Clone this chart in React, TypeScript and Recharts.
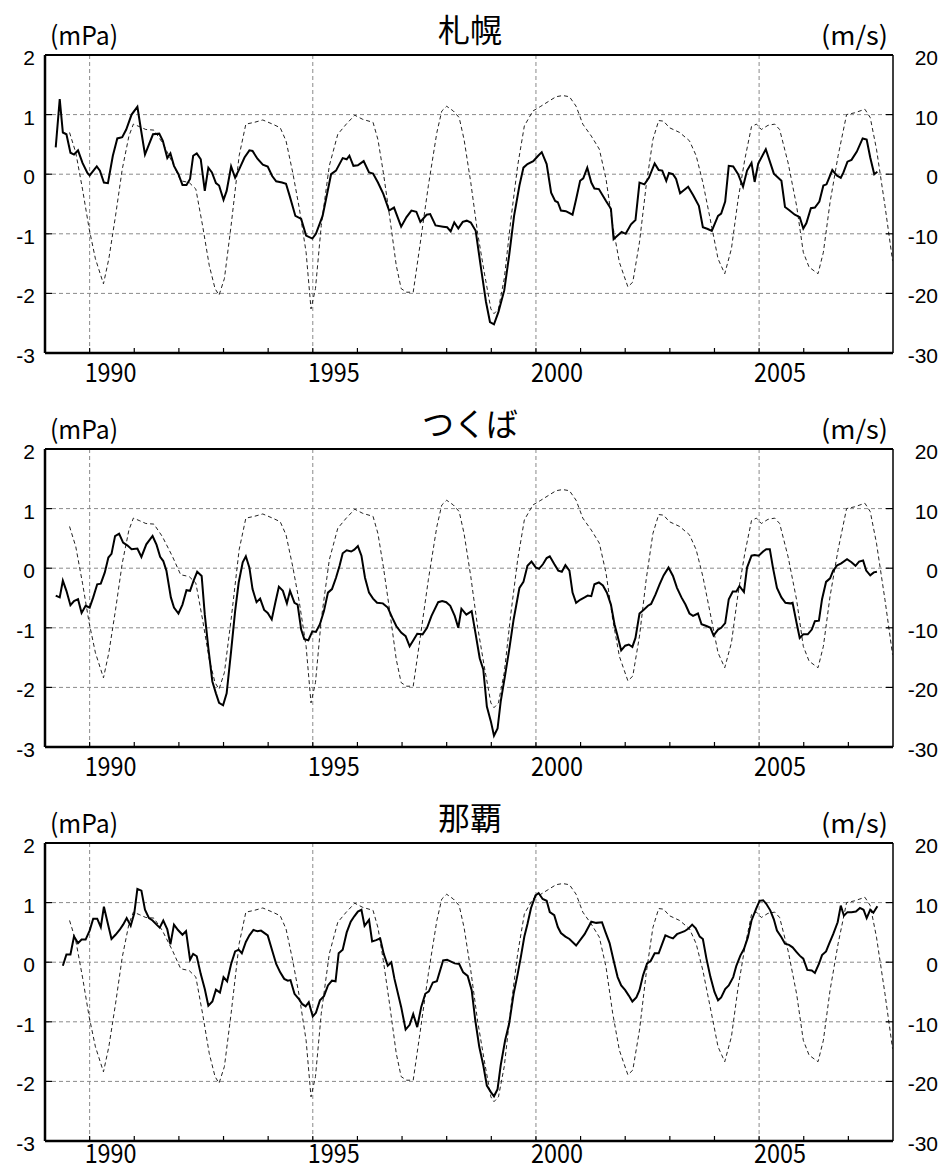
import React from "react";
import { LineChart, Line, XAxis, YAxis, CartesianGrid } from "recharts";

// ozone-ish pressure anomaly (mPa) per station, [year, value]
const sapporo: [number, number][] = [
  [1989.24, 0.45], [1989.33, 1.26], [1989.4, 0.7], [1989.48, 0.67], [1989.57, 0.36], [1989.65, 0.33],
  [1989.74, 0.4], [1989.84, 0.19], [1989.95, 0.02], [1990.0, -0.02], [1990.16, 0.13], [1990.23, 0.06],
  [1990.32, -0.14], [1990.41, -0.15], [1990.52, 0.31], [1990.62, 0.6], [1990.73, 0.62], [1990.82, 0.75],
  [1990.94, 1.0], [1991.07, 1.13], [1991.15, 0.75], [1991.24, 0.33], [1991.33, 0.5], [1991.42, 0.67],
  [1991.56, 0.68], [1991.64, 0.56], [1991.74, 0.27], [1991.81, 0.35], [1991.89, 0.14], [1991.99, 0.0],
  [1992.08, -0.18], [1992.17, -0.18], [1992.25, -0.08], [1992.32, 0.31], [1992.4, 0.35], [1992.49, 0.25],
  [1992.58, -0.28], [1992.66, 0.11], [1992.74, 0.03], [1992.83, -0.15], [1992.9, -0.19], [1993.0, -0.43],
  [1993.07, -0.28], [1993.17, 0.13], [1993.26, -0.06], [1993.35, 0.08], [1993.47, 0.28], [1993.58, 0.4],
  [1993.65, 0.39], [1993.76, 0.26], [1993.88, 0.16], [1993.99, 0.13], [1994.09, -0.03], [1994.18, -0.12],
  [1994.31, -0.14], [1994.4, -0.16], [1994.48, -0.36], [1994.61, -0.7], [1994.74, -0.75], [1994.85, -1.03],
  [1994.99, -1.08], [1995.07, -1.0], [1995.22, -0.7], [1995.41, 0.0], [1995.52, 0.06], [1995.67, 0.27],
  [1995.76, 0.25], [1995.82, 0.31], [1995.91, 0.14], [1996.01, 0.15], [1996.14, 0.22], [1996.26, 0.03],
  [1996.35, 0.01], [1996.46, -0.14], [1996.58, -0.33], [1996.71, -0.61], [1996.82, -0.56], [1996.98, -0.88],
  [1997.1, -0.72], [1997.21, -0.61], [1997.32, -0.63], [1997.41, -0.8], [1997.55, -0.68], [1997.63, -0.67],
  [1997.75, -0.86], [1997.92, -0.88], [1998.01, -0.89], [1998.09, -0.96], [1998.17, -0.81], [1998.26, -0.91],
  [1998.36, -0.8], [1998.45, -0.78], [1998.54, -0.81], [1998.65, -0.95], [1998.76, -1.53], [1998.88, -2.14],
  [1998.97, -2.48], [1999.06, -2.52], [1999.16, -2.31], [1999.29, -1.95], [1999.4, -1.36], [1999.51, -0.7],
  [1999.63, -0.19], [1999.72, 0.11], [1999.81, 0.17], [1999.94, 0.22], [2000.05, 0.31], [2000.13, 0.37],
  [2000.24, 0.17], [2000.34, -0.31], [2000.43, -0.45], [2000.49, -0.47], [2000.56, -0.61], [2000.67, -0.62],
  [2000.82, -0.68], [2000.9, -0.42], [2000.99, -0.11], [2001.06, -0.07], [2001.15, 0.11], [2001.24, -0.14],
  [2001.31, -0.24], [2001.41, -0.25], [2001.57, -0.45], [2001.68, -0.58], [2001.74, -1.09], [2001.83, -1.03],
  [2001.92, -0.97], [2002.01, -1.0], [2002.13, -0.84], [2002.23, -0.77], [2002.32, -0.14], [2002.43, -0.17],
  [2002.53, -0.06], [2002.66, 0.18], [2002.75, 0.07], [2002.83, 0.06], [2002.92, -0.11], [2002.98, 0.02],
  [2003.07, 0.0], [2003.14, -0.08], [2003.23, -0.32], [2003.41, -0.21], [2003.52, -0.35], [2003.65, -0.53],
  [2003.74, -0.89], [2003.85, -0.92], [2003.94, -0.95], [2004.08, -0.7], [2004.15, -0.66], [2004.24, -0.46],
  [2004.32, 0.14], [2004.42, 0.13], [2004.53, 0.0], [2004.64, -0.21], [2004.73, 0.06], [2004.83, 0.19],
  [2004.9, -0.13], [2004.98, 0.18], [2005.15, 0.42], [2005.33, 0.01], [2005.5, -0.11], [2005.58, -0.55],
  [2005.67, -0.6], [2005.8, -0.68], [2005.91, -0.72], [2005.99, -0.91], [2006.06, -0.82], [2006.16, -0.57],
  [2006.25, -0.56], [2006.35, -0.46], [2006.44, -0.19], [2006.51, -0.17], [2006.64, 0.07], [2006.74, -0.02],
  [2006.83, -0.06], [2006.89, 0.03], [2006.98, 0.21], [2007.07, 0.24], [2007.19, 0.38], [2007.32, 0.6],
  [2007.41, 0.58], [2007.49, 0.28], [2007.58, 0.0], [2007.65, 0.04],
];

const tsukuba: [number, number][] = [
  [1989.24, -0.46], [1989.33, -0.49], [1989.4, -0.21], [1989.48, -0.38], [1989.57, -0.62], [1989.65, -0.55],
  [1989.74, -0.52], [1989.82, -0.75], [1989.91, -0.63], [1990.0, -0.66], [1990.08, -0.49], [1990.17, -0.27],
  [1990.25, -0.26], [1990.34, -0.07], [1990.42, 0.18], [1990.49, 0.24], [1990.57, 0.54], [1990.66, 0.58],
  [1990.75, 0.43], [1990.85, 0.38], [1990.94, 0.32], [1991.07, 0.33], [1991.16, 0.19], [1991.27, 0.4],
  [1991.41, 0.54], [1991.5, 0.39], [1991.58, 0.19], [1991.65, 0.12], [1991.72, -0.04], [1991.82, -0.49],
  [1991.89, -0.66], [1991.99, -0.76], [1992.08, -0.61], [1992.17, -0.37], [1992.25, -0.38], [1992.33, -0.21],
  [1992.41, -0.06], [1992.51, -0.13], [1992.58, -0.78], [1992.66, -1.34], [1992.75, -1.9], [1992.83, -2.1],
  [1992.9, -2.26], [1992.99, -2.3], [1993.07, -2.1], [1993.17, -1.39], [1993.26, -0.72], [1993.34, -0.24],
  [1993.43, 0.1], [1993.5, 0.2], [1993.58, 0.01], [1993.65, -0.35], [1993.74, -0.57], [1993.82, -0.51],
  [1993.91, -0.7], [1993.99, -0.75], [1994.08, -0.86], [1994.16, -0.58], [1994.24, -0.31], [1994.33, -0.38],
  [1994.42, -0.59], [1994.49, -0.38], [1994.59, -0.58], [1994.66, -0.61], [1994.74, -1.03], [1994.81, -1.19],
  [1994.9, -1.21], [1994.99, -1.06], [1995.07, -1.07], [1995.16, -0.94], [1995.25, -0.72], [1995.34, -0.41],
  [1995.43, -0.35], [1995.52, -0.16], [1995.6, 0.04], [1995.67, 0.25], [1995.76, 0.3], [1995.86, 0.28],
  [1995.93, 0.31], [1996.01, 0.37], [1996.09, 0.21], [1996.17, -0.16], [1996.26, -0.41], [1996.35, -0.51],
  [1996.44, -0.58], [1996.57, -0.59], [1996.68, -0.66], [1996.78, -0.83], [1996.87, -0.97], [1996.98, -1.08],
  [1997.08, -1.14], [1997.17, -1.31], [1997.26, -1.2], [1997.34, -1.1], [1997.46, -1.11], [1997.56, -1.0],
  [1997.66, -0.8], [1997.81, -0.57], [1997.9, -0.55], [1997.99, -0.57], [1998.08, -0.63], [1998.18, -0.8],
  [1998.26, -1.0], [1998.33, -0.68], [1998.44, -0.78], [1998.56, -0.72], [1998.65, -1.11], [1998.74, -1.51],
  [1998.82, -1.7], [1998.9, -2.32], [1998.99, -2.57], [1999.06, -2.81], [1999.14, -2.69], [1999.21, -2.24],
  [1999.31, -1.79], [1999.4, -1.37], [1999.5, -0.86], [1999.63, -0.33], [1999.72, -0.23], [1999.81, 0.04],
  [1999.9, 0.11], [2000.0, 0.01], [2000.07, -0.01], [2000.16, 0.07], [2000.24, 0.17], [2000.31, 0.2],
  [2000.41, 0.07], [2000.5, -0.04], [2000.58, -0.06], [2000.66, 0.05], [2000.75, -0.04], [2000.82, -0.41],
  [2000.9, -0.58], [2000.99, -0.53], [2001.09, -0.49], [2001.16, -0.46], [2001.24, -0.47], [2001.31, -0.27],
  [2001.41, -0.24], [2001.5, -0.29], [2001.59, -0.41], [2001.68, -0.61], [2001.76, -0.94], [2001.83, -1.14],
  [2001.91, -1.38], [2002.0, -1.3], [2002.08, -1.28], [2002.16, -1.32], [2002.23, -1.17], [2002.32, -0.76],
  [2002.41, -0.7], [2002.51, -0.63], [2002.58, -0.6], [2002.68, -0.44], [2002.77, -0.27], [2002.86, -0.12],
  [2002.97, 0.01], [2003.07, -0.13], [2003.16, -0.33], [2003.26, -0.49], [2003.35, -0.61], [2003.44, -0.76],
  [2003.52, -0.8], [2003.63, -0.76], [2003.71, -0.94], [2003.82, -0.97], [2003.91, -1.0], [2003.98, -1.13],
  [2004.08, -1.03], [2004.15, -1.0], [2004.24, -0.92], [2004.32, -0.52], [2004.41, -0.39], [2004.49, -0.39],
  [2004.56, -0.3], [2004.66, -0.4], [2004.73, 0.01], [2004.83, 0.21], [2004.9, 0.22], [2004.99, 0.21],
  [2005.09, 0.28], [2005.16, 0.32], [2005.24, 0.32], [2005.31, 0.01], [2005.4, -0.33], [2005.5, -0.49],
  [2005.59, -0.58], [2005.69, -0.59], [2005.75, -0.58], [2005.84, -0.92], [2005.91, -1.17], [2005.99, -1.11],
  [2006.09, -1.11], [2006.18, -1.03], [2006.25, -0.89], [2006.34, -0.88], [2006.41, -0.52], [2006.5, -0.23],
  [2006.59, -0.17], [2006.66, -0.04], [2006.75, 0.05], [2006.84, 0.08], [2006.97, 0.15], [2007.07, 0.1],
  [2007.16, 0.04], [2007.24, 0.11], [2007.33, 0.13], [2007.4, -0.04], [2007.49, -0.12], [2007.57, -0.07],
  [2007.64, -0.06],
];

const naha: [number, number][] = [
  [1989.4, -0.06], [1989.48, 0.13], [1989.57, 0.13], [1989.65, 0.43], [1989.74, 0.32], [1989.82, 0.38],
  [1989.91, 0.38], [1990.0, 0.53], [1990.08, 0.73], [1990.17, 0.73], [1990.25, 0.59], [1990.32, 0.93],
  [1990.41, 0.64], [1990.49, 0.39], [1990.58, 0.46], [1990.67, 0.54], [1990.75, 0.63], [1990.83, 0.74],
  [1990.92, 0.61], [1991.0, 0.82], [1991.07, 1.23], [1991.16, 1.2], [1991.24, 0.88], [1991.33, 0.74],
  [1991.41, 0.7], [1991.5, 0.63], [1991.57, 0.58], [1991.65, 0.7], [1991.74, 0.55], [1991.81, 0.3],
  [1991.89, 0.63], [1991.98, 0.54], [1992.08, 0.46], [1992.16, 0.52], [1992.25, 0.04], [1992.32, 0.14],
  [1992.4, 0.1], [1992.49, -0.2], [1992.58, -0.45], [1992.66, -0.73], [1992.75, -0.66], [1992.83, -0.46],
  [1992.92, -0.51], [1993.0, -0.25], [1993.08, -0.32], [1993.17, -0.03], [1993.26, 0.18], [1993.34, 0.21],
  [1993.41, 0.15], [1993.5, 0.34], [1993.58, 0.45], [1993.67, 0.54], [1993.76, 0.52], [1993.84, 0.53],
  [1993.99, 0.45], [1994.08, 0.22], [1994.18, -0.03], [1994.27, -0.17], [1994.36, -0.28], [1994.44, -0.31],
  [1994.5, -0.3], [1994.59, -0.53], [1994.68, -0.61], [1994.76, -0.7], [1994.84, -0.74], [1994.91, -0.67],
  [1995.0, -0.91], [1995.07, -0.85], [1995.16, -0.64], [1995.25, -0.57], [1995.34, -0.39], [1995.43, -0.31],
  [1995.51, -0.32], [1995.58, 0.15], [1995.67, 0.21], [1995.76, 0.5], [1995.85, 0.68], [1995.93, 0.77],
  [1996.01, 0.85], [1996.09, 0.88], [1996.16, 0.61], [1996.26, 0.71], [1996.33, 0.35], [1996.42, 0.37],
  [1996.51, 0.4], [1996.59, 0.14], [1996.68, -0.06], [1996.76, 0.0], [1996.83, -0.28], [1996.98, -0.75],
  [1997.08, -1.13], [1997.17, -1.05], [1997.25, -0.87], [1997.34, -1.09], [1997.43, -0.75], [1997.52, -0.53],
  [1997.6, -0.49], [1997.69, -0.34], [1997.78, -0.32], [1997.92, 0.03], [1998.01, 0.04], [1998.18, -0.02],
  [1998.28, -0.03], [1998.37, -0.17], [1998.47, -0.23], [1998.56, -0.47], [1998.64, -0.97], [1998.73, -1.42],
  [1998.82, -1.73], [1998.9, -2.07], [1998.99, -2.18], [1999.06, -2.25], [1999.14, -2.13], [1999.21, -1.73],
  [1999.31, -1.31], [1999.4, -1.03], [1999.5, -0.53], [1999.59, -0.2], [1999.66, 0.08], [1999.74, 0.43],
  [1999.81, 0.64], [1999.89, 0.91], [1999.99, 1.12], [2000.06, 1.16], [2000.15, 1.06], [2000.24, 1.03],
  [2000.31, 0.84], [2000.41, 0.79], [2000.49, 0.59], [2000.56, 0.49], [2000.66, 0.43], [2000.75, 0.39],
  [2000.9, 0.28], [2001.09, 0.47], [2001.24, 0.68], [2001.35, 0.66], [2001.48, 0.67], [2001.56, 0.5],
  [2001.65, 0.32], [2001.74, 0.03], [2001.83, -0.25], [2001.91, -0.39], [2002.0, -0.47], [2002.08, -0.56],
  [2002.16, -0.66], [2002.25, -0.59], [2002.32, -0.47], [2002.4, -0.22], [2002.49, -0.02], [2002.57, 0.02],
  [2002.66, 0.15], [2002.75, 0.15], [2002.82, 0.29], [2002.9, 0.45], [2002.99, 0.42], [2003.07, 0.4],
  [2003.16, 0.47], [2003.26, 0.5], [2003.33, 0.52], [2003.41, 0.56], [2003.5, 0.63], [2003.58, 0.57],
  [2003.67, 0.43], [2003.74, 0.39], [2003.82, 0.06], [2003.91, -0.25], [2004.0, -0.5], [2004.08, -0.64],
  [2004.15, -0.59], [2004.24, -0.45], [2004.32, -0.39], [2004.42, -0.25], [2004.49, -0.06], [2004.58, 0.11],
  [2004.66, 0.22], [2004.75, 0.42], [2004.83, 0.7], [2004.93, 0.89], [2005.01, 1.03], [2005.09, 1.04],
  [2005.16, 0.98], [2005.25, 0.87], [2005.33, 0.72], [2005.4, 0.53], [2005.5, 0.42], [2005.58, 0.31],
  [2005.67, 0.29], [2005.75, 0.25], [2005.84, 0.17], [2005.91, 0.11], [2005.99, 0.06], [2006.08, -0.13],
  [2006.18, -0.14], [2006.25, -0.18], [2006.34, -0.03], [2006.41, 0.12], [2006.5, 0.18], [2006.57, 0.31],
  [2006.66, 0.47], [2006.76, 0.67], [2006.83, 0.95], [2006.9, 0.78], [2006.98, 0.84], [2007.07, 0.84],
  [2007.17, 0.85], [2007.26, 0.91], [2007.34, 0.88], [2007.41, 0.74], [2007.49, 0.88], [2007.56, 0.83],
  [2007.65, 0.94],
];

// equatorial zonal wind (m/s), same curve in all three panels
const wind: [number, number][] = [
  [1989.55, 7.0], [1989.69, 3.6], [1989.84, -2.5], [1989.99, -9.2], [1990.13, -14.2], [1990.31, -18.4],
  [1990.43, -14.2], [1990.58, -7.0], [1990.73, 0.8], [1990.88, 6.4], [1990.98, 8.4], [1991.11, 8.0],
  [1991.26, 7.5], [1991.44, 7.4], [1991.63, 5.3], [1991.86, 1.9], [1992.04, -1.1], [1992.23, -1.4],
  [1992.38, -2.5], [1992.53, -8.6], [1992.68, -15.3], [1992.81, -19.2], [1992.9, -20.3], [1993.02, -17.5],
  [1993.17, -8.6], [1993.35, 3.1], [1993.5, 8.4], [1993.69, 8.7], [1993.88, 9.1], [1994.1, 8.4],
  [1994.27, 7.8], [1994.4, 5.6], [1994.55, 0.3], [1994.7, -5.8], [1994.85, -13.1], [1994.96, -22.6],
  [1995.06, -19.2], [1995.19, -8.6], [1995.37, 1.4], [1995.56, 6.7], [1995.75, 8.4], [1995.94, 9.9],
  [1996.12, 9.2], [1996.35, 8.7], [1996.46, 5.8], [1996.58, 0.3], [1996.72, -7.0], [1996.87, -15.3],
  [1996.98, -19.2], [1997.1, -19.8], [1997.25, -19.8], [1997.4, -12.0], [1997.59, -1.9], [1997.78, 7.0],
  [1997.89, 10.6], [1998.0, 11.4], [1998.15, 10.6], [1998.28, 9.5], [1998.39, 5.8], [1998.54, -1.4],
  [1998.69, -9.7], [1998.84, -16.4], [1998.99, -22.6], [1999.06, -23.4], [1999.16, -22.6], [1999.29, -17.5],
  [1999.44, -7.5], [1999.59, 1.4], [1999.74, 8.1], [1999.93, 10.6], [2000.11, 11.4], [2000.3, 12.3],
  [2000.45, 13.0], [2000.6, 13.2], [2000.75, 13.0], [2000.9, 11.4], [2001.05, 8.4], [2001.24, 6.4],
  [2001.42, 4.2], [2001.57, -0.8], [2001.72, -8.6], [2001.87, -14.8], [2002.06, -18.9], [2002.17, -18.1],
  [2002.32, -11.4], [2002.47, -1.9], [2002.62, 5.8], [2002.75, 9.0], [2002.86, 8.9], [2002.99, 7.8],
  [2003.22, 7.0], [2003.44, 5.6], [2003.59, 3.1], [2003.74, -1.4], [2003.89, -7.0], [2004.08, -14.2],
  [2004.23, -16.7], [2004.38, -12.5], [2004.53, -4.2], [2004.68, 2.5], [2004.83, 8.0], [2004.94, 8.4],
  [2005.05, 7.5], [2005.2, 8.2], [2005.35, 8.4], [2005.46, 7.5], [2005.65, 1.9], [2005.84, -5.3],
  [2005.99, -13.1], [2006.12, -15.6], [2006.32, -16.7], [2006.44, -13.1], [2006.59, -4.7], [2006.77, 3.1],
  [2006.96, 10.0], [2007.14, 10.3], [2007.37, 10.9], [2007.49, 9.5], [2007.63, 4.2], [2007.82, -5.3],
  [2007.99, -14.5],
];

const stations = ["札幌", "つくば", "那覇"];
const stationSeries = [sapporo, tsukuba, naha];

const yearTicks = Array.from({ length: 18 }, (_, i) => 1990 + i);
const leftTicks = [-3, -2, -1, 0, 1, 2];
const rightTicks = [-30, -20, -10, 0, 10, 20];

const toRows = (pts: [number, number][]) => pts.map(([t, v]) => ({ t, v }));
const windRows = toRows(wind);

const NUM_FONT = "'Liberation Sans', Arial, sans-serif";
const JP_FONT = "'Noto Sans CJK JP', sans-serif";

const PANEL_H = 394;
// each axis takes 1px, so plot box is left 45, top 55, right 893, bottom 353
const M = { top: 54, right: 50, bottom: 40, left: 44 };

const makeBottomTick = (dy: number) => (props: any) => {
  const { x, y, payload } = props;
  const v = payload.value;
  return (
    <g>
      <line x1={x} y1={y} x2={x} y2={y - 5} stroke="#000" strokeWidth={1.2} />
      {v % 5 === 0 && (
        <text
          x={x - 5}
          y={y + dy}
          fontSize={26}
          fontFamily={JP_FONT}
          textLength={52}
          lengthAdjust="spacingAndGlyphs"
          fill="#000"
        >
          {v}
        </text>
      )}
    </g>
  );
};

const TopTick = (props: any) => {
  const { x, y } = props;
  return <line x1={x} y1={y} x2={x} y2={y + 5} stroke="#000" strokeWidth={1.2} />;
};

const LeftTick = (props: any) => {
  const { x, y, payload } = props;
  return (
    <g>
      <line x1={x} y1={y} x2={x + 7} y2={y} stroke="#000" strokeWidth={1.2} />
      <text x={x - 10} y={y + 10} textAnchor="end" fontSize={21} fontFamily={NUM_FONT} fill="#000">
        {payload.value}
      </text>
    </g>
  );
};

const RightTick = (props: any) => {
  const { x, y, payload } = props;
  return (
    <g>
      <line x1={x} y1={y} x2={x - 7} y2={y} stroke="#000" strokeWidth={1.2} />
      <text x={x + 45} y={y + 10} textAnchor="end" fontSize={21} fontFamily={NUM_FONT} fill="#000">
        {payload.value}
      </text>
    </g>
  );
};

function Panel({
  title,
  series,
  top,
  labelDy,
}: {
  title: string;
  series: [number, number][];
  top: number;
  labelDy: number;
}) {
  const BottomTick = makeBottomTick(labelDy);
  return (
    <div style={{ position: "absolute", left: 0, top, width: 944, height: PANEL_H }}>
      <LineChart width={944} height={PANEL_H} margin={M}>
        <CartesianGrid
          stroke="#8a8a8a"
          strokeDasharray="4 3"
          strokeWidth={1}
          verticalValues={[1990, 1995, 2000, 2005]}
          horizontalValues={[-2, -1, 0, 1]}
        />
        <XAxis
          dataKey="t"
          type="number"
          domain={[1989, 2008]}
          ticks={yearTicks}
          interval={0}
          height={1}
          tickSize={0}
          tickMargin={0}
          tickLine={false}
          tick={(p: any) => <BottomTick {...p} />}
          stroke="#000"
          axisLine={{ stroke: "#000", strokeWidth: 2.5 }}
          allowDataOverflow
        />
        <XAxis
          xAxisId="top"
          orientation="top"
          type="number"
          domain={[1989, 2008]}
          ticks={yearTicks}
          interval={0}
          height={1}
          tickSize={0}
          tickMargin={0}
          tickLine={false}
          tick={<TopTick />}
          stroke="#000"
          axisLine={{ stroke: "#000", strokeWidth: 2 }}
          allowDataOverflow
        />
        <YAxis
          type="number"
          domain={[-3, 2]}
          ticks={leftTicks}
          interval={0}
          width={1}
          tickSize={0}
          tickMargin={0}
          tickLine={false}
          tick={<LeftTick />}
          stroke="#000"
          axisLine={{ stroke: "#000", strokeWidth: 2.5 }}
          allowDataOverflow
        />
        <YAxis
          yAxisId="right"
          orientation="right"
          type="number"
          domain={[-30, 20]}
          ticks={rightTicks}
          interval={0}
          width={1}
          tickSize={0}
          tickMargin={0}
          tickLine={false}
          tick={<RightTick />}
          stroke="#000"
          axisLine={{ stroke: "#000", strokeWidth: 1.5 }}
          allowDataOverflow
        />
        <Line
          data={windRows}
          yAxisId="right"
          dataKey="v"
          type="linear"
          stroke="#222"
          strokeWidth={1}
          strokeDasharray="4 3"
          dot={false}
          activeDot={false}
          isAnimationActive={false}
        />
        <Line
          data={toRows(series)}
          dataKey="v"
          type="linear"
          stroke="#000"
          strokeWidth={2}
          dot={false}
          activeDot={false}
          isAnimationActive={false}
        />
      </LineChart>
      <svg
        width={944}
        height={PANEL_H}
        style={{ position: "absolute", left: 0, top: 0, pointerEvents: "none" }}
      >
        <text x={470} y={42} textAnchor="middle" fontSize={32} fontFamily={JP_FONT} fill="#000">
          {title}
        </text>
        <text x={50} y={45} fontSize={26} fontFamily={JP_FONT} textLength={68} lengthAdjust="spacingAndGlyphs" fill="#000">
          (mPa)
        </text>
        <text x={821} y={45} fontSize={26} fontFamily={JP_FONT} textLength={67} lengthAdjust="spacingAndGlyphs" fill="#000">
          (m/s)
        </text>
      </svg>
    </div>
  );
}

export default function App() {
  return (
    <div
      style={{
        position: "absolute",
        left: 0,
        top: 0,
        width: 944,
        height: 1171,
        background: "#fff",
        overflow: "hidden",
      }}
    >
      {stations.map((name, i) => (
        <Panel
          key={name}
          title={name}
          series={stationSeries[i]}
          top={i * PANEL_H}
          labelDy={i === stations.length - 1 ? 22 : 29}
        />
      ))}
    </div>
  );
}
